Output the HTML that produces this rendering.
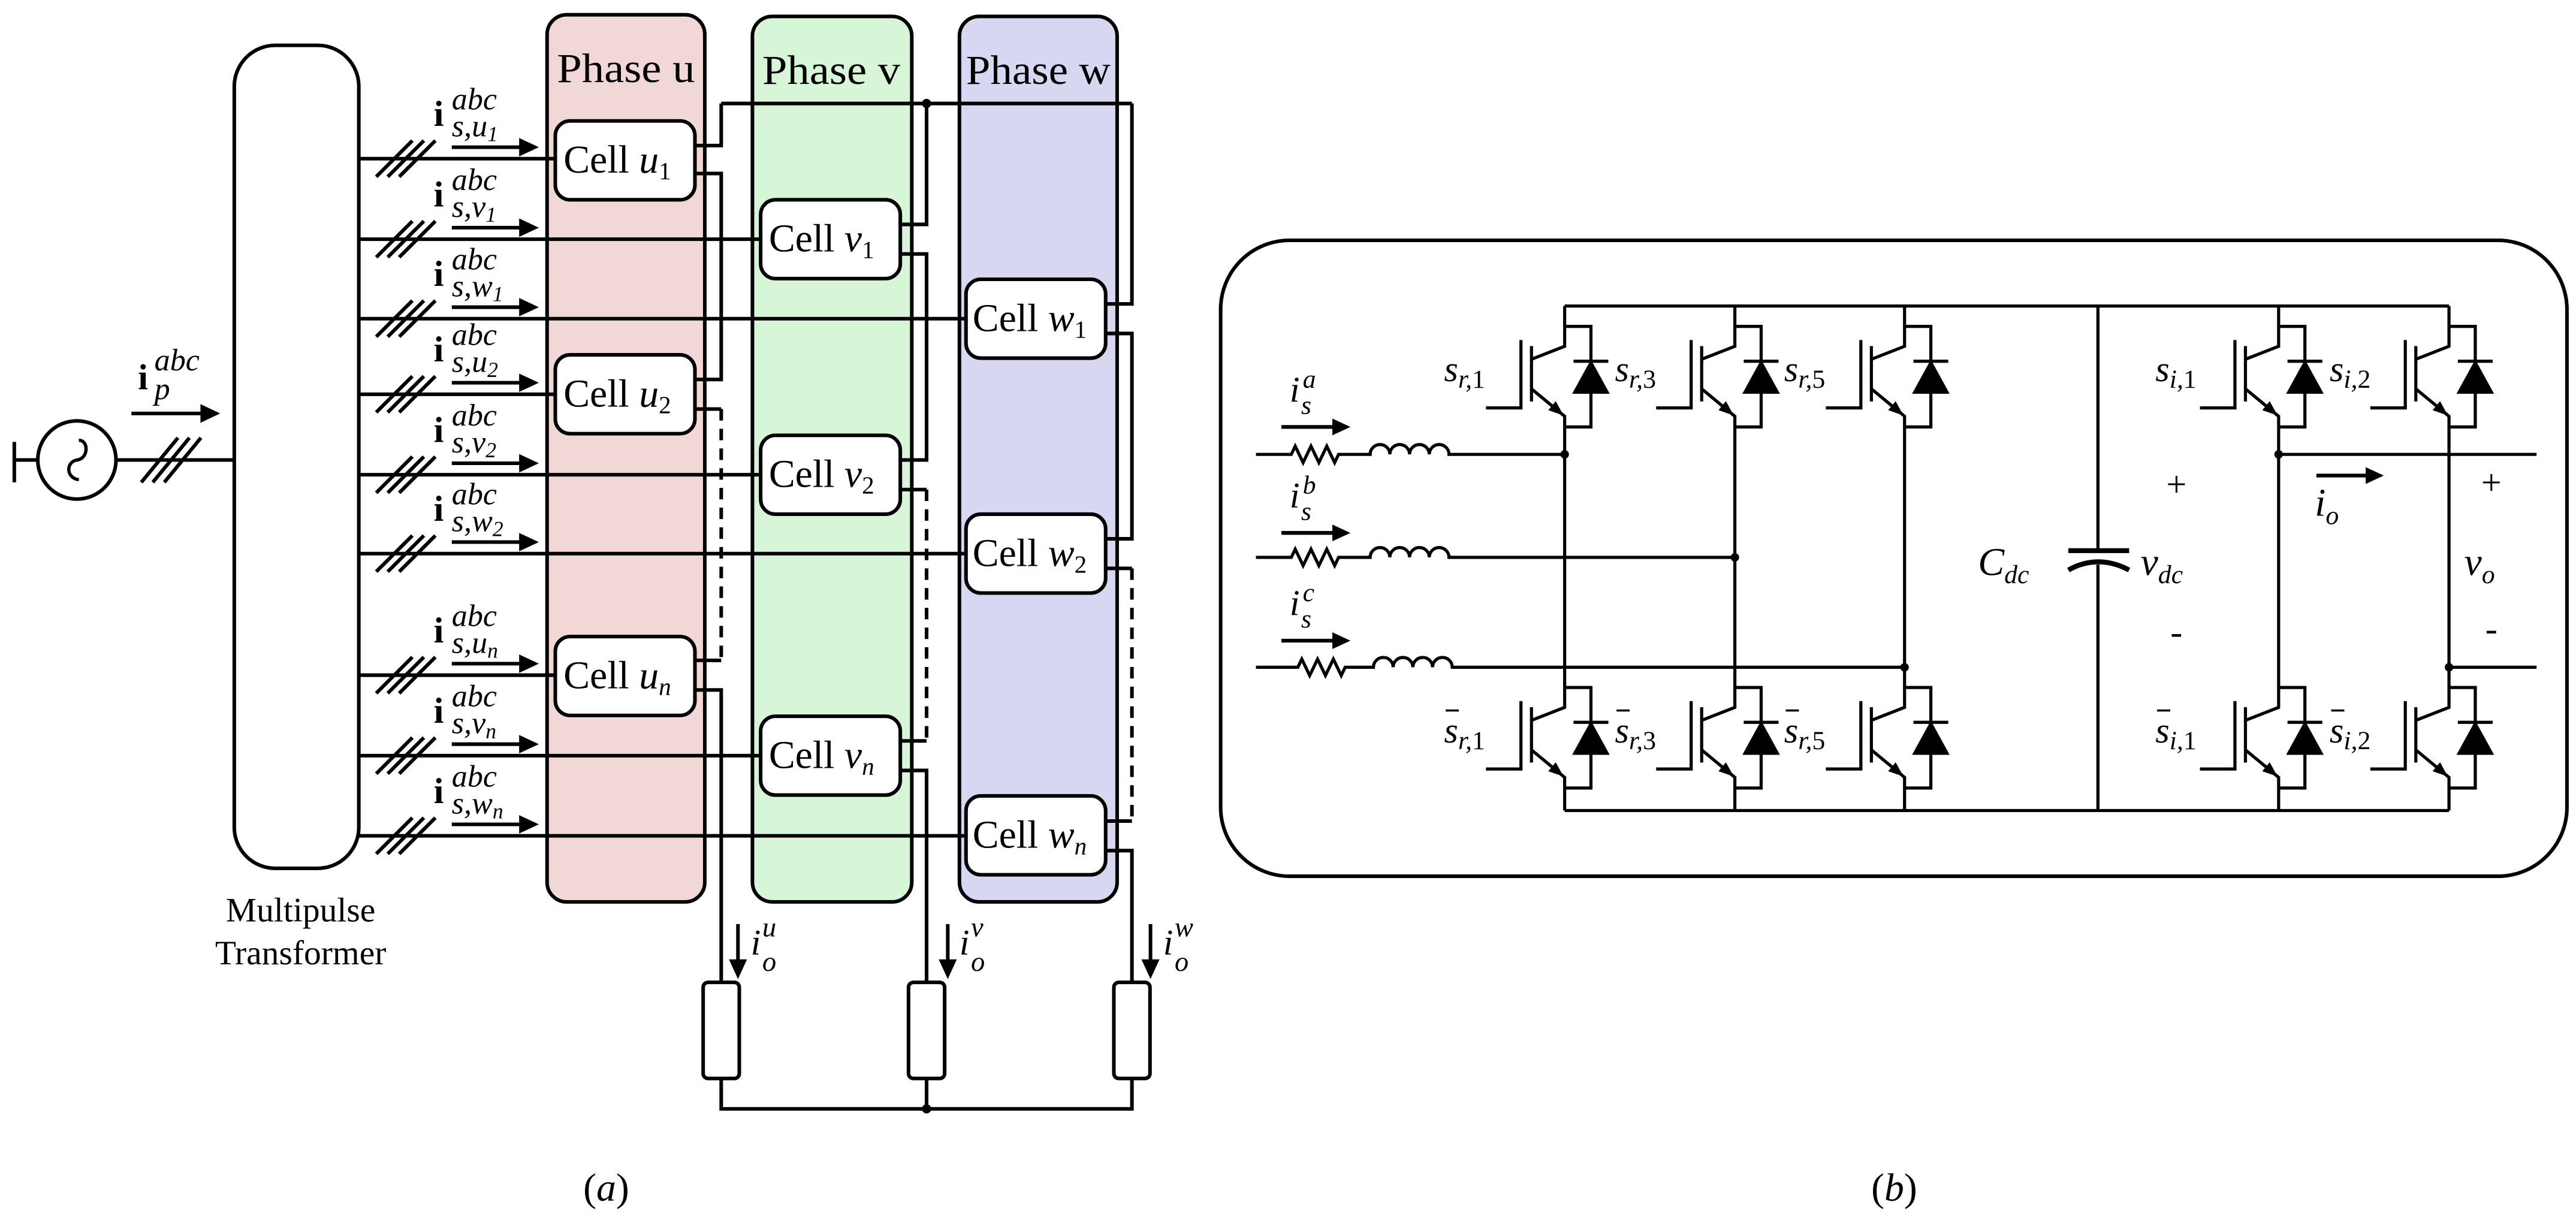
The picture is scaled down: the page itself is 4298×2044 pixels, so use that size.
<!DOCTYPE html>
<html><head><meta charset="utf-8"><style>
html,body{margin:0;padding:0;background:#fff}
svg{display:block}
text{font-family:"Liberation Serif",serif;fill:#000}
.it{font-style:italic}
.b{font-weight:bold}
</style></head><body>
<svg width="4298" height="2044" viewBox="0 0 1568 745.7" xmlns="http://www.w3.org/2000/svg">
<defs>
<g id="sw" fill="none" stroke="#000" stroke-width="1.9">
<path d="M0,0 H16 V61.2 H0"/>
<path d="M0,0 V12.1 L-20.2,20"/>
<path d="M-20.2,38 L0,54.7 V61.2"/>
<path d="M-20.2,12 V45.7"/>
<path d="M-26.6,8.3 V49.6 H-47.9"/>
<path d="M5.4,21.2 H26.6"/>
<polygon points="16,21.2 5.4,40.5 26.6,40.5" fill="#000" stroke-width="1"/>
<polygon points="-1.5,53.5 -9.3,50.8 -5.5,46.2" fill="#000" stroke-width="0.8"/>
</g>
</defs>

<!-- ================= (a) ================= -->
<rect x="333" y="9" width="96" height="540" rx="12" fill="#f2d7d7" stroke="#000" stroke-width="2.2"/>
<rect x="458" y="10" width="97" height="539" rx="12" fill="#d7f5d7" stroke="#000" stroke-width="2.2"/>
<rect x="584" y="10" width="96" height="539" rx="12" fill="#d7d7f2" stroke="#000" stroke-width="2.2"/>
<text x="381" y="50" font-size="25" text-anchor="middle" textLength="84" lengthAdjust="spacingAndGlyphs">Phase u</text>
<text x="506" y="51" font-size="25" text-anchor="middle" textLength="84" lengthAdjust="spacingAndGlyphs">Phase v</text>
<text x="632" y="51" font-size="25" text-anchor="middle" textLength="88" lengthAdjust="spacingAndGlyphs">Phase w</text>

<rect x="142.6" y="27.6" width="75.8" height="501" rx="25" fill="#fff" stroke="#000" stroke-width="2.2"/>
<text x="183" y="561" font-size="21" text-anchor="middle">Multipulse</text>
<text x="183" y="587" font-size="21" text-anchor="middle">Transformer</text>

<!-- source -->
<g stroke="#000" stroke-width="2.2" fill="none">
<circle cx="46.8" cy="280" r="23.8"/>
<path d="M8.7,269 V293.6 M8.7,280 H23"/>
<path d="M70.6,280 H142.6"/>
<path d="M86,293.6 L108.3,266.5 M93,293.6 L115.3,266.5 M100,293.6 L122.3,266.5"/>
<path d="M48,268 C54,268 54,279 47,280 C40,281 40,291 48,292" stroke-width="2"/>
<path d="M80,251.7 H124"/>
</g>
<polygon points="134,251.7 122,246 122,257.4" fill="#000"/>
<text x="84" y="237" font-size="22" class="b">i</text>
<text x="94" y="225.5" font-size="19" class="it">abc</text>
<text x="94" y="243" font-size="19" class="it">p</text>

<!-- input lines -->
<g stroke="#000" stroke-width="2.2" fill="none">
<path d="M218,96.6 H338 M218,145.6 H463 M218,194 H588 M218,240 H338 M218,289 H463 M218,337 H588 M218,411 H338 M218,460 H463 M218,508.8 H588"/>
<path d="M229,107.6 L251,85.6 M236,107.6 L258,85.6 M243,107.6 L265,85.6"/>
<path d="M229,156.6 L251,134.6 M236,156.6 L258,134.6 M243,156.6 L265,134.6"/>
<path d="M229,205 L251,183 M236,205 L258,183 M243,205 L265,183"/>
<path d="M229,251 L251,229 M236,251 L258,229 M243,251 L265,229"/>
<path d="M229,300 L251,278 M236,300 L258,278 M243,300 L265,278"/>
<path d="M229,348 L251,326 M236,348 L258,326 M243,348 L265,326"/>
<path d="M229,422 L251,400 M236,422 L258,400 M243,422 L265,400"/>
<path d="M229,471 L251,449 M236,471 L258,449 M243,471 L265,449"/>
<path d="M229,519.8 L251,497.8 M236,519.8 L258,497.8 M243,519.8 L265,497.8"/>
<path d="M275,89.6 H318 M275,138.6 H318 M275,187 H318 M275,233 H318 M275,282 H318 M275,330 H318 M275,404 H318 M275,453 H318 M275,501.8 H318"/>
</g>
<g fill="#000">
<polygon points="328,89.6 316,84 316,95.2"/>
<polygon points="328,138.6 316,133 316,144.2"/>
<polygon points="328,187 316,181.4 316,192.6"/>
<polygon points="328,233 316,227.4 316,238.6"/>
<polygon points="328,282 316,276.4 316,287.6"/>
<polygon points="328,330 316,324.4 316,335.6"/>
<polygon points="328,404 316,398.4 316,409.6"/>
<polygon points="328,453 316,447.4 316,458.6"/>
<polygon points="328,501.8 316,496.2 316,507.4"/>
</g>
<g font-size="19">
<text x="264" y="76.6" font-size="22" class="b">i</text><text x="275" y="66.6" class="it">abc</text><text x="275" y="83" class="it">s,u<tspan font-size="13" dy="3">1</tspan></text>
<text x="264" y="125.6" font-size="22" class="b">i</text><text x="275" y="115.6" class="it">abc</text><text x="275" y="132" class="it">s,v<tspan font-size="13" dy="3">1</tspan></text>
<text x="264" y="174" font-size="22" class="b">i</text><text x="275" y="164" class="it">abc</text><text x="275" y="180.4" class="it">s,w<tspan font-size="13" dy="3">1</tspan></text>
<text x="264" y="220" font-size="22" class="b">i</text><text x="275" y="210" class="it">abc</text><text x="275" y="226.4" class="it">s,u<tspan font-size="13" dy="3">2</tspan></text>
<text x="264" y="269" font-size="22" class="b">i</text><text x="275" y="259" class="it">abc</text><text x="275" y="275.4" class="it">s,v<tspan font-size="13" dy="3">2</tspan></text>
<text x="264" y="317" font-size="22" class="b">i</text><text x="275" y="307" class="it">abc</text><text x="275" y="323.4" class="it">s,w<tspan font-size="13" dy="3">2</tspan></text>
<text x="264" y="391" font-size="22" class="b">i</text><text x="275" y="381" class="it">abc</text><text x="275" y="397.4" class="it">s,u<tspan font-size="13" dy="3">n</tspan></text>
<text x="264" y="440" font-size="22" class="b">i</text><text x="275" y="430" class="it">abc</text><text x="275" y="446.4" class="it">s,v<tspan font-size="13" dy="3">n</tspan></text>
<text x="264" y="488.8" font-size="22" class="b">i</text><text x="275" y="478.8" class="it">abc</text><text x="275" y="495.2" class="it">s,w<tspan font-size="13" dy="3">n</tspan></text>
</g>

<!-- output wiring -->
<g stroke="#000" stroke-width="2.2" fill="none">
<path d="M439,63 H689"/>
<path d="M439,63 V88.6 H423 M423,105.6 H439 V231 H423 M423,249 H439 M423,402 H439 M423,420 H439 V598"/>
<path d="M439,249 V402" stroke-dasharray="7 5"/>
<path d="M564,63 V136.6 H548 M548,154.6 H564 V280 H548 M548,298 H564 M548,451 H564 M548,469 H564 V598"/>
<path d="M564,298 V451" stroke-dasharray="7 5"/>
<path d="M689,63 V185 H673 M673,203 H689 V328 H673 M673,346 H689 M673,499.8 H689 M673,517.8 H689 V598"/>
<path d="M689,346 V499.8" stroke-dasharray="7 5"/>
<rect x="428" y="598" width="22" height="58.5" rx="3"/>
<rect x="553" y="598" width="22" height="58.5" rx="3"/>
<rect x="678" y="598" width="22" height="58.5" rx="3"/>
<path d="M439,656.5 V675 H689 V656.5 M564,656.5 V675"/>
<path d="M449.2,562.5 V586 M576.9,562.5 V586 M700.3,562.5 V586"/>
</g>
<g fill="#000">
<circle cx="564" cy="63" r="2.8"/><circle cx="564" cy="675" r="2.8"/>
<polygon points="449.2,596 443.7,584 454.7,584"/>
<polygon points="576.9,596 571.4,584 582.4,584"/>
<polygon points="700.3,596 694.8,584 705.8,584"/>
</g>
<g font-size="22" class="it">
<text x="457" y="581">i</text><text x="464" y="570" font-size="17">u</text><text x="464" y="591" font-size="17">o</text>
<text x="584" y="581">i</text><text x="591" y="570" font-size="17">v</text><text x="591" y="591" font-size="17">o</text>
<text x="708" y="581">i</text><text x="715" y="570" font-size="17">w</text><text x="715" y="591" font-size="17">o</text>
</g>

<!-- cells -->
<g fill="#fff" stroke="#000" stroke-width="2.2">
<rect x="338" y="73.6" width="85" height="48" rx="9"/>
<rect x="463" y="121.6" width="85" height="48" rx="9"/>
<rect x="588" y="170" width="85" height="48" rx="9"/>
<rect x="338" y="216" width="85" height="48" rx="9"/>
<rect x="463" y="265" width="85" height="48" rx="9"/>
<rect x="588" y="313" width="85" height="48" rx="9"/>
<rect x="338" y="387.5" width="85" height="48" rx="9"/>
<rect x="463" y="436" width="85" height="48" rx="9"/>
<rect x="588" y="484.5" width="85" height="48" rx="9"/>
</g>
<g font-size="24">
<text x="343" y="105">Cell <tspan class="it">u</tspan><tspan font-size="15" dy="4">1</tspan></text>
<text x="468" y="153">Cell <tspan class="it">v</tspan><tspan font-size="15" dy="4">1</tspan></text>
<text x="592" y="201.5">Cell <tspan class="it">w</tspan><tspan font-size="15" dy="4">1</tspan></text>
<text x="343" y="247.5">Cell <tspan class="it">u</tspan><tspan font-size="15" dy="4">2</tspan></text>
<text x="468" y="296.5">Cell <tspan class="it">v</tspan><tspan font-size="15" dy="4">2</tspan></text>
<text x="592" y="344.5">Cell <tspan class="it">w</tspan><tspan font-size="15" dy="4">2</tspan></text>
<text x="343" y="419">Cell <tspan class="it">u</tspan><tspan font-size="15" dy="4" class="it">n</tspan></text>
<text x="468" y="467.5">Cell <tspan class="it">v</tspan><tspan font-size="15" dy="4" class="it">n</tspan></text>
<text x="592" y="516">Cell <tspan class="it">w</tspan><tspan font-size="15" dy="4" class="it">n</tspan></text>
</g>
<text x="369" y="731" font-size="24" text-anchor="middle">(<tspan class="it">a</tspan>)</text>

<!-- ================= (b) ================= -->
<rect x="743" y="146.3" width="819.5" height="387.1" rx="42" fill="none" stroke="#000" stroke-width="2.2"/>
<g stroke="#000" stroke-width="1.9" fill="none">
<path d="M952.4,186.3 H1490.7 M952.4,493.4 H1490.7"/>
<path d="M952.4,186.3 V198.7 M952.4,259.9 V418.5 M952.4,479.7 V493.4"/>
<path d="M1056,186.3 V198.7 M1056,259.9 V418.5 M1056,479.7 V493.4"/>
<path d="M1159.3,186.3 V198.7 M1159.3,259.9 V418.5 M1159.3,479.7 V493.4"/>
<path d="M1387,186.3 V198.7 M1387,259.9 V418.5 M1387,479.7 V493.4"/>
<path d="M1490.7,186.3 V198.7 M1490.7,259.9 V418.5 M1490.7,479.7 V493.4"/>
<path d="M1277,186.3 V335.2 M1277,343.7 V493.4"/>
<path d="M1259,335.2 H1296" stroke-width="3"/>
<path d="M1259,347 Q1277,337 1296,347" stroke-width="3"/>
<path d="M764.5,276.6 H786 l2.4,-5 l4.8,10 l4.8,-10 l4.8,10 l4.8,-10 l4.8,10 l2.4,-5 H834 a6,6 0 0 1 12,0 a6,6 0 0 1 12,0 a6,6 0 0 1 12,0 a6,6 0 0 1 12,0 H952.4"/>
<path d="M764.5,339.3 H786 l2.4,-5 l4.8,10 l4.8,-10 l4.8,10 l4.8,-10 l4.8,10 l2.4,-5 H834 a6,6 0 0 1 12,0 a6,6 0 0 1 12,0 a6,6 0 0 1 12,0 a6,6 0 0 1 12,0 H1056"/>
<path d="M764.5,406.2 H790 l2.4,-5 l4.8,10 l4.8,-10 l4.8,10 l4.8,-10 l4.8,10 l2.4,-5 H836 a6,6 0 0 1 12,0 a6,6 0 0 1 12,0 a6,6 0 0 1 12,0 a6,6 0 0 1 12,0 H1159.3"/>
<path d="M1387,276.6 H1544 M1490.7,406.2 H1544"/>
<path d="M780,259.9 H812 M780,324.4 H812 M780,390 H812 M1410,289.5 H1441" stroke-width="2.3"/>
</g>
<g fill="#000">
<polygon points="822,259.9 811,254.8 811,265"/>
<polygon points="822,324.4 811,319.3 811,329.5"/>
<polygon points="822,390 811,384.9 811,395.1"/>
<polygon points="1451,289.5 1440,284.4 1440,294.6"/>
<circle cx="952.4" cy="276.6" r="2.6"/><circle cx="1056" cy="339.3" r="2.6"/><circle cx="1159.3" cy="406.2" r="2.6"/>
<circle cx="1387" cy="276.6" r="2.6"/><circle cx="1490.7" cy="406.2" r="2.6"/>
</g>
<use href="#sw" x="952.4" y="198.7"/><use href="#sw" x="1056" y="198.7"/><use href="#sw" x="1159.3" y="198.7"/>
<use href="#sw" x="1387" y="198.7"/><use href="#sw" x="1490.7" y="198.7"/>
<use href="#sw" x="952.4" y="418.5"/><use href="#sw" x="1056" y="418.5"/><use href="#sw" x="1159.3" y="418.5"/>
<use href="#sw" x="1387" y="418.5"/><use href="#sw" x="1490.7" y="418.5"/>

<g font-size="22" class="it">
<text x="785" y="244.4">i</text><text x="793" y="236" font-size="16">a</text><text x="792" y="252" font-size="16">s</text>
<text x="785" y="308.9">i</text><text x="793" y="300.5" font-size="16">b</text><text x="792" y="316.5" font-size="16">s</text>
<text x="785" y="374.4">i</text><text x="793" y="366" font-size="16">c</text><text x="792" y="382" font-size="16">s</text>

<text x="879" y="232">s<tspan font-size="16" dy="4">r,</tspan><tspan font-size="16" style="font-style:normal">1</tspan></text>
<text x="983" y="232">s<tspan font-size="16" dy="4">r,</tspan><tspan font-size="16" style="font-style:normal">3</tspan></text>
<text x="1086" y="232">s<tspan font-size="16" dy="4">r,</tspan><tspan font-size="16" style="font-style:normal">5</tspan></text>
<text x="1312" y="232">s<tspan font-size="16" dy="4">i,</tspan><tspan font-size="16" style="font-style:normal">1</tspan></text>
<text x="1418" y="232">s<tspan font-size="16" dy="4">i,</tspan><tspan font-size="16" style="font-style:normal">2</tspan></text>

<text x="879" y="452">s<tspan font-size="16" dy="4">r,</tspan><tspan font-size="16" style="font-style:normal">1</tspan></text>
<text x="983" y="452">s<tspan font-size="16" dy="4">r,</tspan><tspan font-size="16" style="font-style:normal">3</tspan></text>
<text x="1086" y="452">s<tspan font-size="16" dy="4">r,</tspan><tspan font-size="16" style="font-style:normal">5</tspan></text>
<text x="1312" y="452">s<tspan font-size="16" dy="4">i,</tspan><tspan font-size="16" style="font-style:normal">1</tspan></text>
<text x="1418" y="452">s<tspan font-size="16" dy="4">i,</tspan><tspan font-size="16" style="font-style:normal">2</tspan></text>

<text x="1204" y="350" font-size="24">C<tspan font-size="16" dy="5">dc</tspan></text>
<text x="1303" y="350" font-size="24">v<tspan font-size="16" dy="5">dc</tspan></text>
<text x="1500" y="350" font-size="24">v<tspan font-size="16" dy="5">o</tspan></text>
<text x="1409" y="314" font-size="24">i<tspan font-size="16" dy="5">o</tspan></text>
</g>
<g stroke="#000" stroke-width="1.3">
<path d="M880,432.5 H888 M984,432.5 H992 M1087,432.5 H1095 M1313,432.5 H1321 M1419,432.5 H1427"/>
</g>
<g font-size="22">
<text x="1324.8" y="302" text-anchor="middle">+</text>
<text x="1516.5" y="301" text-anchor="middle">+</text>
<text x="1324.8" y="392" text-anchor="middle">-</text>
<text x="1516.5" y="390" text-anchor="middle">-</text>
</g>
<text x="1153" y="731" font-size="24" text-anchor="middle">(<tspan class="it">b</tspan>)</text>
</svg>
</body></html>
